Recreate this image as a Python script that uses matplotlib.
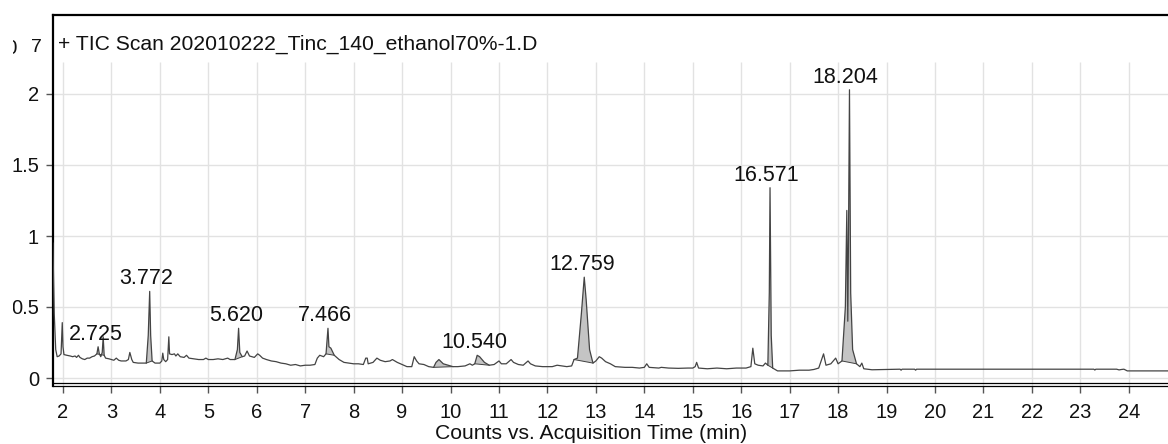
import numpy as np
import matplotlib
matplotlib.use("Agg")
import matplotlib.pyplot as plt
from matplotlib.patches import Rectangle

plt.rcParams['font.family'] = ['Liberation Sans', 'DejaVu Sans']

# ---------------- data (retention time in min, counts in x10^7) ----------------
time_min = [
    1.79, 1.80, 1.82, 1.85, 1.88, 1.92, 1.96, 1.985, 2.00, 2.02, 2.08, 2.15, 2.20, 2.25,
    2.28, 2.32, 2.35, 2.40, 2.45, 2.50, 2.55, 2.60, 2.65, 2.70, 2.725, 2.75, 2.78, 2.81,
    2.83, 2.85, 2.88, 2.95, 3.00, 3.05, 3.10, 3.15, 3.20, 3.30, 3.35, 3.38, 3.42, 3.45,
    3.55, 3.65, 3.72, 3.76, 3.79, 3.81, 3.84, 3.90, 4.00, 4.04, 4.06, 4.08, 4.12, 4.16,
    4.185, 4.20, 4.25, 4.30, 4.33, 4.37, 4.42, 4.50, 4.55, 4.60, 4.70, 4.80, 4.90, 4.95,
    5.00, 5.10, 5.20, 5.30, 5.40, 5.45, 5.55, 5.60, 5.625, 5.65, 5.70, 5.75, 5.80, 5.85,
    5.90, 5.95, 6.02, 6.06, 6.12, 6.20, 6.30, 6.40, 6.50, 6.60, 6.70, 6.80, 6.90, 7.00,
    7.10, 7.20, 7.25, 7.30, 7.38, 7.43, 7.47, 7.49, 7.53, 7.60, 7.70, 7.80, 7.90, 8.00,
    8.10, 8.20, 8.25, 8.28, 8.30, 8.40, 8.48, 8.55, 8.65, 8.75, 8.80, 8.90, 9.00, 9.10,
    9.20, 9.25, 9.30, 9.35, 9.45, 9.55, 9.65, 9.70, 9.76, 9.85, 9.95, 10.05, 10.15, 10.30,
    10.40, 10.45, 10.50, 10.55, 10.60, 10.70, 10.80, 10.90, 11.00, 11.05, 11.15, 11.25,
    11.30, 11.40, 11.50, 11.60, 11.65, 11.75, 11.90, 12.10, 12.20, 12.30, 12.40, 12.50,
    12.55, 12.62, 12.70, 12.76, 12.80, 12.87, 12.94, 13.00, 13.07, 13.12, 13.20, 13.30,
    13.40, 13.60, 13.75, 13.90, 14.00, 14.05, 14.10, 14.30, 14.35, 14.50, 14.70, 14.90,
    15.00, 15.05, 15.08, 15.12, 15.30, 15.50, 15.70, 15.90, 16.10, 16.20, 16.24, 16.28,
    16.35, 16.45, 16.50, 16.55, 16.58, 16.595, 16.62, 16.65, 16.75, 17.00, 17.20, 17.40,
    17.50, 17.60, 17.70, 17.75, 17.85, 17.95, 18.00, 18.08, 18.15, 18.18, 18.20, 18.215,
    18.235, 18.26, 18.30, 18.38, 18.45, 18.49, 18.53, 18.70, 19.00, 19.28, 19.30, 19.32,
    19.58, 19.60, 19.62, 20.00, 21.00, 22.00, 23.00, 23.28, 23.30, 23.32, 23.75, 23.80,
    23.85, 23.90, 23.97, 24.50, 24.81,
]
tic_counts = [
    0.95, 0.80, 0.45, 0.20, 0.15, 0.155, 0.17, 0.39, 0.22, 0.165, 0.16, 0.155, 0.15, 0.155,
    0.145, 0.16, 0.145, 0.135, 0.13, 0.14, 0.14, 0.15, 0.155, 0.17, 0.22, 0.17, 0.15, 0.18,
    0.29, 0.16, 0.14, 0.135, 0.13, 0.125, 0.14, 0.125, 0.12, 0.12, 0.13, 0.18, 0.13, 0.11,
    0.105, 0.105, 0.105, 0.30, 0.61, 0.30, 0.12, 0.105, 0.105, 0.12, 0.175, 0.13, 0.115, 0.13,
    0.29, 0.17, 0.165, 0.17, 0.155, 0.17, 0.15, 0.145, 0.16, 0.14, 0.135, 0.13, 0.13, 0.14,
    0.13, 0.13, 0.135, 0.13, 0.14, 0.13, 0.13, 0.20, 0.35, 0.18, 0.15, 0.155, 0.19, 0.155,
    0.15, 0.145, 0.17, 0.16, 0.14, 0.13, 0.12, 0.115, 0.105, 0.10, 0.09, 0.095, 0.085, 0.09,
    0.09, 0.095, 0.14, 0.16, 0.15, 0.17, 0.35, 0.22, 0.21, 0.16, 0.13, 0.11, 0.105, 0.10,
    0.10, 0.095, 0.14, 0.14, 0.10, 0.11, 0.14, 0.125, 0.115, 0.12, 0.13, 0.11, 0.095, 0.08,
    0.08, 0.15, 0.12, 0.10, 0.095, 0.08, 0.075, 0.11, 0.13, 0.10, 0.09, 0.08, 0.08, 0.085,
    0.10, 0.09, 0.10, 0.16, 0.15, 0.11, 0.09, 0.095, 0.12, 0.10, 0.10, 0.13,
    0.11, 0.095, 0.09, 0.12, 0.10, 0.085, 0.08, 0.08, 0.09, 0.085, 0.08, 0.085,
    0.13, 0.14, 0.45, 0.71, 0.55, 0.20, 0.105, 0.12, 0.15, 0.14, 0.115, 0.10,
    0.08, 0.075, 0.075, 0.07, 0.075, 0.10, 0.075, 0.07, 0.075, 0.07, 0.068, 0.07,
    0.07, 0.08, 0.11, 0.07, 0.065, 0.07, 0.065, 0.07, 0.07, 0.08, 0.21, 0.10,
    0.09, 0.085, 0.105, 0.09, 0.60, 1.34, 0.30, 0.07, 0.05, 0.05, 0.055, 0.055,
    0.06, 0.07, 0.17, 0.09, 0.10, 0.14, 0.10, 0.12, 0.50, 1.18, 0.40, 1.00,
    2.03, 0.60, 0.20, 0.10, 0.08, 0.105, 0.065, 0.058, 0.06, 0.062, 0.055, 0.062,
    0.062, 0.055, 0.062, 0.062, 0.062, 0.062, 0.062, 0.062, 0.056, 0.062, 0.062, 0.057,
    0.060, 0.062, 0.050, 0.050, 0.050,
]

# labelled peaks
peak_rt = [2.725, 3.772, 5.620, 7.466, 10.540, 12.759, 16.571, 18.204]
peak_apex = [0.22, 0.61, 0.35, 0.35, 0.16, 0.71, 1.34, 2.03]

# integrated (shaded) regions
integ_start = [2.70, 3.72, 5.55, 7.43, 9.65, 10.50, 12.55, 16.55, 18.08]
integ_end = [2.85, 3.84, 5.70, 7.60, 10.05, 10.80, 12.94, 16.65, 18.38]

x_ticks = list(range(2, 25))
y_ticks = [0, 0.5, 1, 1.5, 2]
y_tick_labels = ['0', '0.5', '1', '1.5', '2']
title_text = '+ TIC Scan 202010222_Tinc_140_ethanol70%-1.D'
x_label = 'Counts vs. Acquisition Time (min)'

# ---------------- figure ----------------
W, H = 1168, 444
fig = plt.figure(figsize=(W / 100, H / 100), dpi=100)
ax = fig.add_axes([53 / W, (H - 385.5) / H, 1 - 53 / W, (385.5 - 15) / H])

px_per_unit = 142.0
y0 = -(385.5 - 378) / px_per_unit
y1 = (378 - 15) / px_per_unit
grid_top = (378 - 62) / px_per_unit
ax.set_xlim(1.794, 24.81)
ax.set_ylim(y0, y1)

grid_c = '#e2e2e2'
ax.vlines(x_ticks, y0, grid_top, colors=grid_c, lw=1.0, zorder=0)
for yv in y_ticks:
    ax.axhline(yv, color=grid_c, lw=1.0, zorder=0)

t = np.array(time_min)
c = np.array(tic_counts)

for s, e in zip(integ_start, integ_end):
    m = (t >= s) & (t <= e)
    ts, cs = t[m], c[m]
    base = np.interp(ts, [ts[0], ts[-1]], [cs[0], cs[-1]])
    ax.fill_between(ts, base, cs, where=cs >= base, facecolor='#c4c4c4',
                    edgecolor='none', interpolate=True, zorder=1)
    ax.plot([ts[0], ts[-1]], [cs[0], cs[-1]], color='#404040', lw=0.7, zorder=2)

ax.plot(t, c, color='#444444', lw=0.9, zorder=3)

for rt, ap in zip(peak_rt, peak_apex):
    ax.annotate(f'{rt:.3f}', xy=(rt, ap), xytext=(-2.5, 7), textcoords='offset pixels',
                ha='center', va='baseline', fontsize=15.5, color='#111111', zorder=4)

# spines
ax.spines['right'].set_visible(False)
ax.spines['left'].set_linewidth(1.6)
ax.spines['top'].set_linewidth(1.6)
ax.spines['bottom'].set_linewidth(0.9)
for side in ['left', 'top', 'bottom']:
    ax.spines[side].set_color('black')
ax.axhline(y0 + 2.6 / px_per_unit, color='black', lw=0.9, zorder=5, clip_on=False)

ax.set_xticks(x_ticks)
ax.set_xticklabels([str(v) for v in x_ticks])
ax.set_yticks(y_ticks)
ax.set_yticklabels(y_tick_labels)
ax.tick_params(axis='x', direction='out', length=5, width=1, color='#555555',
               pad=7.5, labelsize=14.5, labelcolor='#111111')
ax.tick_params(axis='y', direction='out', length=5, width=1, color='#555555',
               pad=5, labelsize=14.5, labelcolor='#111111')

fig.text(58 / W, (H - 50) / H, title_text, ha='left', va='baseline', fontsize=15.2,
         color='#111111')
fig.text(18 / W, (H - 54) / H, 'x10', ha='right', va='baseline', fontsize=14.5,
         color='#111111')
fig.text(31 / W, (H - 52) / H, '7', ha='left', va='baseline', fontsize=14,
         color='#111111')
fig.text(591 / W, (H - 439) / H, x_label, ha='center', va='baseline', fontsize=15.2,
         color='#111111')

# left crop band of the original screenshot
fig.patches.append(Rectangle((0, 0), 13 / W, 1, transform=fig.transFigure,
                             facecolor='white', edgecolor='none', zorder=10))

fig.savefig('out.png', dpi=100)
